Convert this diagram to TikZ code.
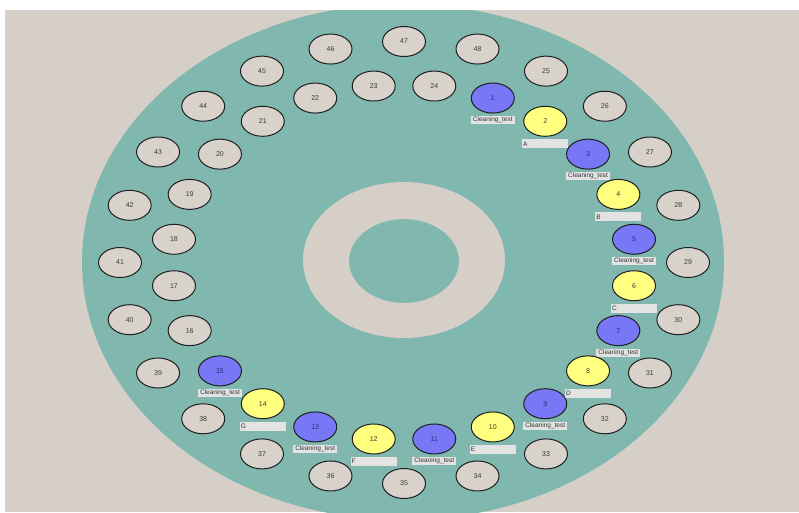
\documentclass[tikz,border=0pt]{standalone}
\usepackage{fontspec}
\setmainfont{Liberation Sans}
\usetikzlibrary{shapes.geometric}
\definecolor{bgbeige}{HTML}{D6CFC8}
\definecolor{plate}{HTML}{80B8AF}
\definecolor{wellbeige}{HTML}{D9D2CB}
\definecolor{wellblue}{HTML}{7878F6}
\definecolor{wellyellow}{HTML}{FFFF80}
\definecolor{wellline}{HTML}{1E1E1E}
\definecolor{numtext}{HTML}{3A3A3A}
\definecolor{bluetext}{HTML}{28287A}
\definecolor{tagfill}{HTML}{E3E3E3}
\definecolor{tagtext}{HTML}{333333}
\begin{document}
\begin{tikzpicture}[x=1pt,y=-1pt,
  well/.style={ellipse, draw=wellline, line width=1pt, minimum width=43pt, minimum height=30pt, inner sep=0pt, font=\fontsize{7}{7}\selectfont, text=numtext},
  emptywell/.style={well, fill=wellbeige},
  bluewell/.style={well, fill=wellblue, text=bluetext},
  yellowwell/.style={well, fill=wellyellow},
  tag/.style={fill=tagfill, inner sep=0pt, minimum height=8pt, font=\fontsize{6.5}{6.5}\selectfont, text=tagtext},
  cleantag/.style={tag, minimum width=44pt},
  lettertag/.style={tag, minimum height=9pt, inner xsep=1pt, text width=44pt, align=left}
]
\useasboundingbox (0,0) rectangle (799,512);
\fill[white] (0,0) rectangle (799,512);
\fill[bgbeige] (5,10) rectangle (799,512);
\begin{scope}
  \clip (5,10) rectangle (799,512);
  \fill[plate] (403,262) ellipse [x radius=321, y radius=258];
\end{scope}
\fill[bgbeige, even odd rule] (404,260) ellipse [x radius=101, y radius=78]
  (404,261) ellipse [x radius=55, y radius=42];
% outer ring
\foreach \n in {25,...,48}{
  \pgfmathsetmacro\a{60-15*(\n-25)}
  \node[emptywell] (c\n) at ({404+284*cos(\a)},{262.5-221*sin(\a)}) {\n};
}
% inner ring, empty
\foreach \k in {16,...,24}{
  \pgfmathsetmacro\a{82.5-15*\k}
  \node[emptywell] (c\k) at ({404+232*cos(\a)},{262.5-178*sin(\a)}) {\k};
}
% inner ring, blue
\foreach \k in {1,3,...,15}{
  \pgfmathsetmacro\a{82.5-15*\k}
  \node[bluewell] (c\k) at ({404+232*cos(\a)},{262.5-178*sin(\a)}) {\k};
  \node[cleantag] (t\k) at ([yshift=-22pt]c\k.center) {Cleaning\_test};
}
% inner ring, yellow
\foreach \k/\L in {2/A,4/B,6/C,8/D,10/E,12/F,14/G}{
  \pgfmathsetmacro\a{82.5-15*\k}
  \node[yellowwell] (c\k) at ({404+232*cos(\a)},{262.5-178*sin(\a)}) {\k};
  \node[lettertag] (t\k) at ([yshift=-22.5pt]c\k.center) {\L};
}
\end{tikzpicture}
\end{document}
